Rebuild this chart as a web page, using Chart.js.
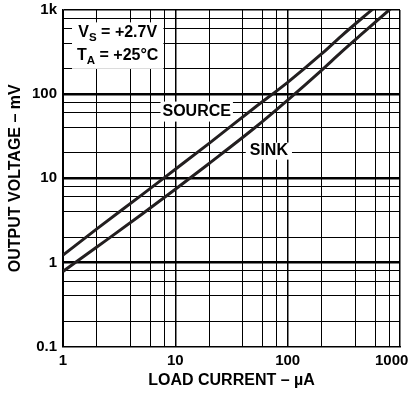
<!DOCTYPE html>
<html>
<head>
<meta charset="utf-8">
<script src="https://cdn.jsdelivr.net/npm/chart.js@4.4.1/dist/chart.umd.min.js"></script>
<style>
  html, body { margin: 0; padding: 0; background: #fff; }
  #wrap { width: 414px; height: 394px; }
</style>
</head>
<body>
<div id="wrap"><canvas id="chart" width="414" height="394"></canvas></div>
<script>
// output voltage (mV) vs load current (uA)
const sourceCurrent = [1, 2, 5, 10, 20, 50, 100, 200, 300, 500, 600];
const sourceVoltage = [1.22, 2.5, 6.3, 12.8, 26, 68, 138, 300, 490, 880, 1080];
const sinkCurrent = [1, 2, 5, 10, 20, 50, 100, 200, 300, 500, 800, 900];
const sinkVoltage = [0.78, 1.52, 3.7, 7.4, 15, 39, 85, 192, 316, 575, 1000, 1150];

const xTickValues = [1, 2, 4, 6, 8, 10, 20, 40, 60, 80, 100, 200, 400, 600, 800, 1000];
const xTickLabels = ['1', '', '', '', '', '10', '', '', '', '', '100', '', '', '', '', '1000    '];
const yTickValues = [0.1, 0.2, 0.4, 0.6, 0.8, 1, 2, 4, 6, 8, 10, 20, 40, 60, 80, 100, 200, 400, 600, 800, 1000];
const yTickLabels = ['0.1', '', '', '', '', '1', '', '', '', '', '10', '', '', '', '', '100', '', '', '', '', '1k'];

const FONT = '"Liberation Sans", Arial, Helvetica, sans-serif';

// labels on the plot, in data coords; "_X" = subscript X
const notes = [
  { x: 3.07, y: [542, 285], lines: ['V_S = +2.7V', 'T_A = +25°C'], pad: [10, 5, 13, 5] },
  { x: 15.5, y: [62], lines: ['SOURCE'], pad: [10, 2, 10, 2] },
  { x: 68, y: [21.3], lines: ['SINK'], pad: [8, 4, 9, 4] }
];

function pieces(str) {
  const out = [];
  str.split(/(_\w)/).forEach(p => {
    if (!p) return;
    if (p[0] === '_') out.push([p.slice(1), true]);
    else out.push([p, false]);
  });
  return out;
}

function setFont(ctx, sub) {
  ctx.font = sub ? `bold 11.5px ${FONT}` : `bold 16px ${FONT}`;
}

const notePlugin = {
  id: 'notes',
  beforeDatasetsDraw(chart) {
    const { ctx, scales: { x, y } } = chart;
    ctx.save();
    notes.forEach(n => {
      const cx = x.getPixelForValue(n.x);
      const rows = n.lines.map((s, i) => {
        const parts = pieces(s);
        let w = 0;
        parts.forEach(([t, sub]) => { setFont(ctx, sub); w += ctx.measureText(t).width; });
        return { parts, w, cy: y.getPixelForValue(n.y[i]) };
      });
      const maxW = Math.max(...rows.map(r => r.w));
      const top = rows[0].cy - n.pad[0];
      const bottom = rows[rows.length - 1].cy + n.pad[2];
      const left = cx - maxW / 2 - n.pad[3];
      const right = cx + maxW / 2 + n.pad[1];
      ctx.fillStyle = '#fff';
      ctx.fillRect(left, top, right - left, bottom - top);

      ctx.fillStyle = '#000';
      ctx.textBaseline = 'middle';
      ctx.textAlign = 'left';
      rows.forEach(r => {
        let px = cx - r.w / 2;
        r.parts.forEach(([t, sub]) => {
          setFont(ctx, sub);
          ctx.fillText(t, px, sub ? r.cy + 5 : r.cy);
          px += ctx.measureText(t).width;
        });
      });
    });
    ctx.restore();
  }
};

const lineColor = '#231f20';

new Chart(document.getElementById('chart'), {
  type: 'line',
  data: {
    datasets: [
      {
        label: 'SOURCE',
        data: sourceCurrent.map((c, i) => ({ x: c, y: sourceVoltage[i] })),
        borderColor: lineColor,
        borderWidth: 3,
        pointRadius: 0,
        cubicInterpolationMode: 'monotone'
      },
      {
        label: 'SINK',
        data: sinkCurrent.map((c, i) => ({ x: c, y: sinkVoltage[i] })),
        borderColor: lineColor,
        borderWidth: 3,
        pointRadius: 0,
        cubicInterpolationMode: 'monotone'
      }
    ]
  },
  options: {
    responsive: false,
    animation: false,
    devicePixelRatio: 1,
    layout: { padding: { top: 10, right: 14, left: 0, bottom: 0 } },
    plugins: {
      legend: { display: false },
      tooltip: { enabled: false }
    },
    scales: {
      x: {
        type: 'logarithmic',
        min: 1,
        max: 1000,
        afterBuildTicks: scale => { scale.ticks = xTickValues.map(v => ({ value: v })); },
        afterFit: scale => { scale.height = 47.5; scale.paddingLeft = 0; scale.paddingRight = 0; },
        grid: {
          color: '#000',
          drawTicks: false,
          lineWidth: c => (c.index === xTickValues.length - 1 ? 1.5 : ([10, 100].includes(c.tick.value) ? 1.5 : 1))
        },
        border: { color: '#000', width: 1.5 },
        ticks: {
          autoSkip: false,
          maxRotation: 0,
          minRotation: 0,
          padding: 5,
          color: '#000',
          font: { family: FONT, size: 15, weight: 'bold' },
          callback: (v, i) => xTickLabels[i]
        },
        title: {
          display: true,
          text: 'LOAD CURRENT – µA',
          color: '#000',
          font: { family: FONT, size: 16, weight: 'bold' },
          padding: { top: 0, bottom: 4 }
        }
      },
      y: {
        type: 'logarithmic',
        min: 0.1,
        max: 1000,
        afterBuildTicks: scale => { scale.ticks = yTickValues.map(v => ({ value: v })); },
        afterFit: scale => { scale.width = 63; scale.paddingTop = 0; scale.paddingBottom = 0; },
        grid: {
          color: '#000',
          drawTicks: false,
          lineWidth: c => (c.index === yTickValues.length - 1 ? 1.5 : ([1, 10, 100].includes(c.tick.value) ? 2.5 : 1))
        },
        border: { color: '#000', width: 1.5 },
        ticks: {
          autoSkip: false,
          padding: 6,
          color: '#000',
          font: { family: FONT, size: 15, weight: 'bold' },
          callback: (v, i) => yTickLabels[i]
        },
        title: {
          display: true,
          text: 'OUTPUT VOLTAGE – mV',
          color: '#000',
          font: { family: FONT, size: 16, weight: 'bold' },
          padding: { top: 6, bottom: 0 }
        }
      }
    }
  },
  plugins: [notePlugin]
});
</script>
</body>
</html>
